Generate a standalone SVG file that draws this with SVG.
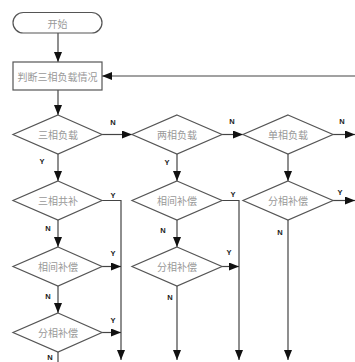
<svg xmlns="http://www.w3.org/2000/svg" width="355" height="362" viewBox="0 0 355 362">
<defs>
<marker id="ah" markerUnits="userSpaceOnUse" markerWidth="10" markerHeight="8" refX="10" refY="4" orient="auto">
<path d="M0,0 L10,4 L0,8 z" fill="#111"/>
</marker>
<style>
.shape{fill:#fff;stroke:#555;stroke-width:1.2}
.t{font-family:"Noto Sans CJK SC","Noto Sans",sans-serif;font-size:10px;fill:#999;text-anchor:middle;dominant-baseline:central}
.l{font-family:"Liberation Sans",Arial,sans-serif;font-size:7.5px;font-weight:bold;fill:#222;text-anchor:middle;dominant-baseline:central}
.c{fill:none;stroke:#444;stroke-width:1.2}
.a{fill:none;stroke:#444;stroke-width:1.2;marker-end:url(#ah)}
</style>
</defs>
<rect width="355" height="362" fill="#fff"/>
<g id="connectors">
<line class="a" x1="58" y1="33" x2="58" y2="62"/>
<line class="a" x1="355" y1="76" x2="102" y2="76"/>
<line class="a" x1="58" y1="90" x2="58" y2="115"/>
<line class="a" x1="102" y1="134.5" x2="132" y2="134.5"/>
<line class="a" x1="222" y1="134.5" x2="243" y2="134.5"/>
<line class="a" x1="333" y1="134.5" x2="355" y2="134.5"/>
<line class="a" x1="58" y1="154" x2="58" y2="181"/>
<line class="a" x1="177" y1="154" x2="177" y2="181"/>
<line class="a" x1="288" y1="154" x2="288" y2="181"/>
<polyline class="a" points="102,200.5 121,200.5 121,360"/>
<polyline class="a" points="222,200.5 239,200.5 239,360"/>
<line class="a" x1="333" y1="200.5" x2="355" y2="200.5"/>
<line class="a" x1="58" y1="220" x2="58" y2="247"/>
<line class="a" x1="177" y1="220" x2="177" y2="247"/>
<line class="a" x1="288" y1="220" x2="288" y2="360"/>
<line class="a" x1="102" y1="266.5" x2="121" y2="266.5"/>
<line class="a" x1="222" y1="266.5" x2="239" y2="266.5"/>
<line class="a" x1="58" y1="286" x2="58" y2="313"/>
<line class="a" x1="177" y1="286" x2="177" y2="360"/>
<line class="a" x1="102" y1="332.5" x2="121" y2="332.5"/>
<line class="c" x1="58" y1="352" x2="58" y2="362"/>
</g>
<g id="labels">
<text class="l" x="113" y="122">N</text>
<text class="l" x="232" y="121">N</text>
<text class="l" x="342" y="121">N</text>
<text class="l" x="42" y="161">Y</text>
<text class="l" x="167" y="162">Y</text>
<text class="l" x="113" y="195">Y</text>
<text class="l" x="233" y="194">Y</text>
<text class="l" x="340" y="192">Y</text>
<text class="l" x="48" y="228">N</text>
<text class="l" x="163" y="230">N</text>
<text class="l" x="280" y="232">N</text>
<text class="l" x="113" y="253">Y</text>
<text class="l" x="229" y="252">Y</text>
<text class="l" x="48" y="296">N</text>
<text class="l" x="170" y="297">N</text>
<text class="l" x="113" y="320">Y</text>
<text class="l" x="50" y="357">N</text>
</g>
<g id="start">
<rect class="shape" x="13" y="12.5" width="89" height="20.5" rx="10.25"/>
<text class="t" x="57.5" y="23">开始</text>
</g>
<g id="judge">
<rect class="shape" x="13" y="62" width="89" height="28"/>
<text class="t" x="57.5" y="76">判断三相负载情况</text>
</g>
<g id="d_three">
<polygon class="shape" points="58,115 102,134.5 58,154 13,134.5"/>
<text class="t" x="58" y="134.5">三相负载</text>
</g>
<g id="d_two">
<polygon class="shape" points="177,115 222,134.5 177,154 132,134.5"/>
<text class="t" x="177" y="134.5">两相负载</text>
</g>
<g id="d_single">
<polygon class="shape" points="288,115 333,134.5 288,154 243,134.5"/>
<text class="t" x="288" y="134.5">单相负载</text>
</g>
<g id="d_c1_common">
<polygon class="shape" points="58,181 102,200.5 58,220 13,200.5"/>
<text class="t" x="58" y="200.5">三相共补</text>
</g>
<g id="d_c2_inter">
<polygon class="shape" points="177,181 222,200.5 177,220 132,200.5"/>
<text class="t" x="177" y="200.5">相间补偿</text>
</g>
<g id="d_c3_split">
<polygon class="shape" points="288,181 333,200.5 288,220 243,200.5"/>
<text class="t" x="288" y="200.5">分相补偿</text>
</g>
<g id="d_c1_inter">
<polygon class="shape" points="58,247 102,266.5 58,286 13,266.5"/>
<text class="t" x="58" y="266.5">相间补偿</text>
</g>
<g id="d_c2_split">
<polygon class="shape" points="177,247 222,266.5 177,286 132,266.5"/>
<text class="t" x="177" y="266.5">分相补偿</text>
</g>
<g id="d_c1_split">
<polygon class="shape" points="58,313 102,332.5 58,352 13,332.5"/>
<text class="t" x="58" y="332.5">分相补偿</text>
</g>
</svg>
